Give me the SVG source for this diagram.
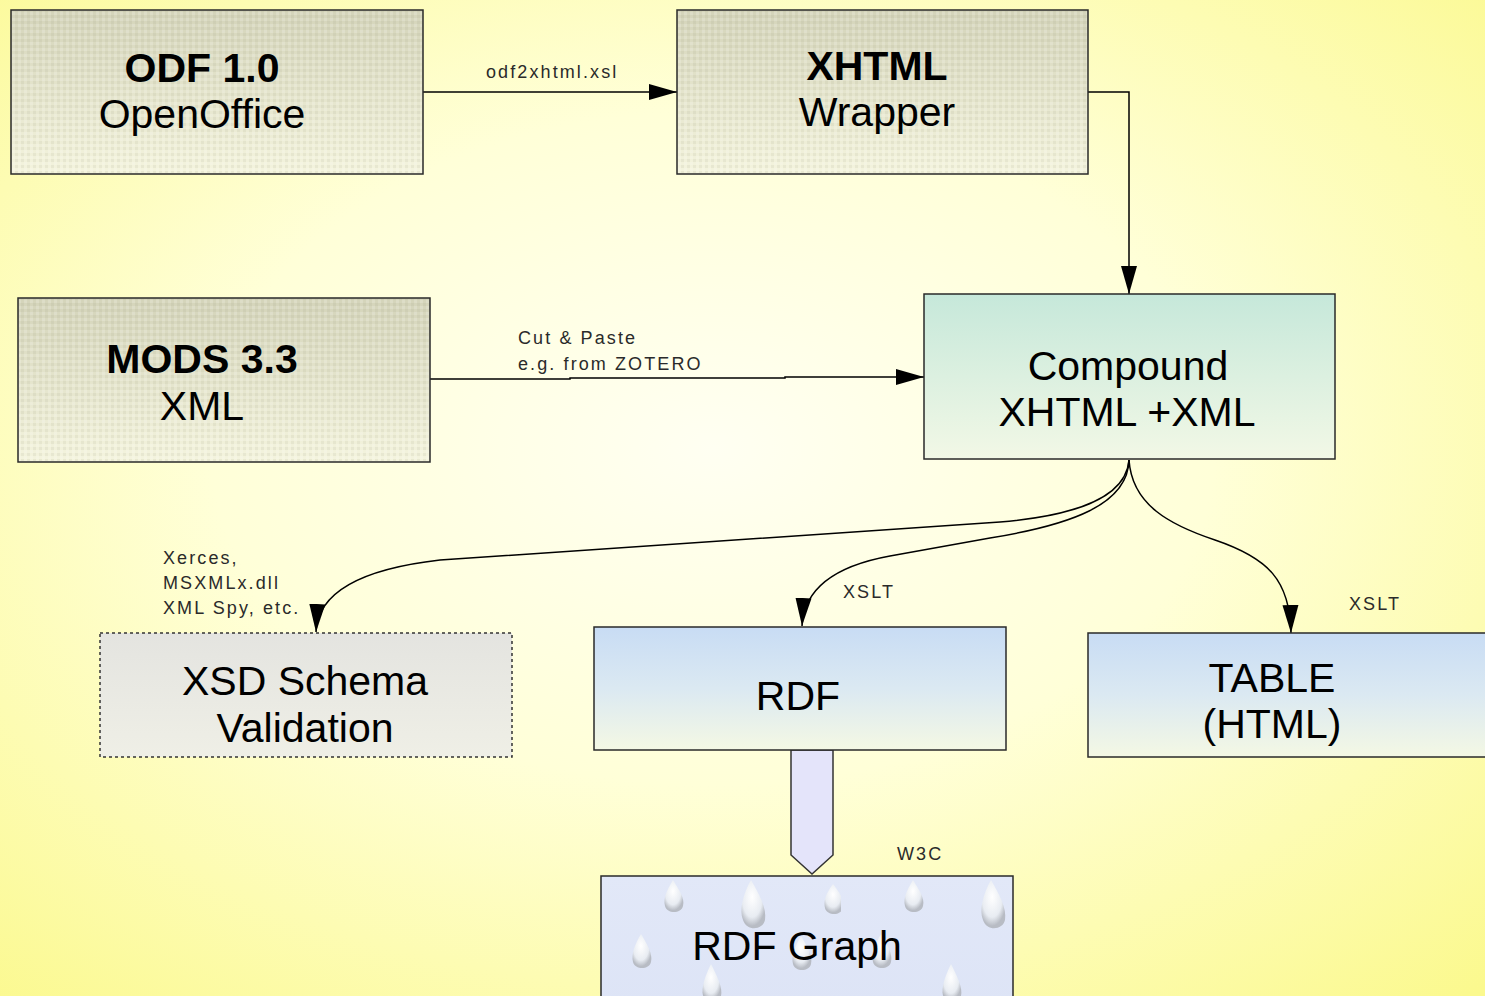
<svg xmlns="http://www.w3.org/2000/svg" width="1485" height="996" viewBox="0 0 1485 996">
<defs>
  <radialGradient id="bg" cx="48%" cy="45%" r="75%">
    <stop offset="0" stop-color="#fffff2"/>
    <stop offset="0.45" stop-color="#ffffd8"/>
    <stop offset="1" stop-color="#fbf98e"/>
  </radialGradient>
  <linearGradient id="tan" x1="0" y1="0" x2="0" y2="1">
    <stop offset="0" stop-color="#d4d4ba"/>
    <stop offset="1" stop-color="#f4f4de"/>
  </linearGradient>
  <linearGradient id="green" x1="0" y1="0" x2="0" y2="1">
    <stop offset="0" stop-color="#c6e8da"/>
    <stop offset="1" stop-color="#f2f8e6"/>
  </linearGradient>
  <linearGradient id="sky" x1="0" y1="0" x2="0" y2="1">
    <stop offset="0" stop-color="#c8dcf4"/>
    <stop offset="0.5" stop-color="#dbe9f2"/>
    <stop offset="1" stop-color="#f4f8e4"/>
  </linearGradient>
  <linearGradient id="gray" x1="0" y1="0" x2="0" y2="1">
    <stop offset="0" stop-color="#e4e4e0"/>
    <stop offset="1" stop-color="#efefe6"/>
  </linearGradient>
  <pattern id="weave" width="6" height="6" patternUnits="userSpaceOnUse">
    <rect width="6" height="6" fill="none"/>
    <rect x="0" y="0" width="3" height="3" fill="#ffffff" opacity="0.18"/>
    <rect x="3" y="3" width="3" height="3" fill="#8a8a70" opacity="0.10"/>
  </pattern>
  <radialGradient id="drop" cx="45%" cy="35%" r="60%">
    <stop offset="0" stop-color="#ffffff"/>
    <stop offset="0.7" stop-color="#e8ecf2"/>
    <stop offset="1" stop-color="#b8bcc4"/>
  </radialGradient>
  <pattern id="drops" x="601" y="876" width="240" height="130" patternUnits="userSpaceOnUse">
    <path d="M72,4 C66,14 62,22 64,30 C66,38 80,38 82,30 C84,22 78,14 72,4Z" fill="url(#drop)"/>
    <path d="M150,4 C142,18 138,34 142,44 C146,56 162,54 164,44 C166,32 158,18 150,4Z" fill="url(#drop)"/>
    <path d="M232,8 C226,16 222,24 224,32 C226,40 240,40 242,32 C244,24 238,16 232,8Z" fill="url(#drop)"/>
    <path d="M40,58 C34,68 30,78 32,86 C34,94 48,94 50,86 C52,78 46,68 40,58Z" fill="url(#drop)"/>
    <path d="M110,88 C104,100 100,112 102,120 C104,128 118,128 120,120 C122,112 116,100 110,88Z" fill="url(#drop)"/>
    <path d="M200,60 C194,70 190,80 192,88 C194,96 208,96 210,88 C212,80 206,70 200,60Z" fill="url(#drop)"/>
  </pattern>
  <linearGradient id="drbg" x1="0" y1="0" x2="0" y2="1">
    <stop offset="0" stop-color="#e2e8f8"/>
    <stop offset="1" stop-color="#dde4f6"/>
  </linearGradient>
  <marker id="ah" viewBox="0 0 28 18" refX="28" refY="9" markerWidth="28" markerHeight="18" markerUnits="userSpaceOnUse" orient="auto">
    <path d="M0,1 L28,9 L0,17 Z" fill="#000"/>
  </marker>
  <style>
    .box{stroke:#2a2a2a;stroke-width:1.5}
    .big{font-family:"Liberation Sans",Arial,sans-serif;font-size:41px;fill:#000;text-anchor:middle}
    .bold{font-weight:bold}
    .lbl{font-family:"Liberation Sans",Arial,sans-serif;font-size:18px;fill:#2a2a2a;letter-spacing:2.1px}
    .con{fill:none;stroke:#000;stroke-width:1.5}
  </style>
</defs>

<rect x="0" y="0" width="1485" height="996" fill="url(#bg)"/>

<g id="connectors">
  <line class="con" x1="423" y1="92" x2="677" y2="92" marker-end="url(#ah)"/>
  <polyline class="con" points="1088,92 1129,92 1129,294" marker-end="url(#ah)"/>
  <polyline class="con" points="430,379 570,379 570,378 785,378 785,377 924,377" marker-end="url(#ah)"/>
  <path class="con" d="M1129,460 C1126,500 1070,516 1000,522 L440,560 C370,568 318,588 316,632" marker-end="url(#ah)"/>
  <path class="con" d="M1129,460 C1128,505 1070,525 990,538 L890,556 C835,566 804,588 802,626" marker-end="url(#ah)"/>
  <path class="con" d="M1129,460 C1132,505 1170,525 1215,540 C1268,558 1290,580 1291,633" marker-end="url(#ah)"/>
  <path d="M791,750 L833,750 L833,855 L812,874 L791,855 Z" fill="#e4e4fa" stroke="#333" stroke-width="1.5"/>
  <text class="lbl" x="486" y="78">odf2xhtml.xsl</text>
  <text class="lbl" x="518" y="344">Cut &amp; Paste</text>
  <text class="lbl" x="518" y="370">e.g. from ZOTERO</text>
  <text class="lbl" x="163" y="564">Xerces,</text>
  <text class="lbl" x="163" y="589">MSXMLx.dll</text>
  <text class="lbl" x="163" y="614">XML Spy, etc.</text>
  <text class="lbl" x="843" y="598">XSLT</text>
  <text class="lbl" x="1349" y="610">XSLT</text>
  <text class="lbl" x="897" y="860">W3C</text>
</g>

<g id="odf">
  <rect class="box" x="11" y="10" width="412" height="164" fill="url(#tan)"/>
  <rect x="12" y="11" width="410" height="162" fill="url(#weave)"/>
  <text class="big bold" x="202" y="82">ODF 1.0</text>
  <text class="big" x="202" y="128">OpenOffice</text>
</g>

<g id="xhtml">
  <rect class="box" x="677" y="10" width="411" height="164" fill="url(#tan)"/>
  <rect x="678" y="11" width="409" height="162" fill="url(#weave)"/>
  <text class="big bold" x="877" y="80">XHTML</text>
  <text class="big" x="877" y="126">Wrapper</text>
</g>

<g id="mods">
  <rect class="box" x="18" y="298" width="412" height="164" fill="url(#tan)"/>
  <rect x="19" y="299" width="410" height="162" fill="url(#weave)"/>
  <text class="big bold" x="202" y="373">MODS 3.3</text>
  <text class="big" x="202" y="420">XML</text>
</g>

<g id="compound">
  <rect class="box" x="924" y="294" width="411" height="165" fill="url(#green)"/>
  <text class="big" x="1128" y="380">Compound</text>
  <text class="big" x="1127" y="426">XHTML +XML</text>
</g>

<g id="xsd">
  <rect x="100" y="633" width="412" height="124" fill="url(#gray)" stroke="#333" stroke-width="1.5" stroke-dasharray="3,3"/>
  <text class="big" x="305" y="695">XSD Schema</text>
  <text class="big" x="305" y="742">Validation</text>
</g>

<g id="rdf">
  <rect class="box" x="594" y="627" width="412" height="123" fill="url(#sky)"/>
  <text class="big" x="798" y="710">RDF</text>
</g>

<g id="table">
  <rect class="box" x="1088" y="633" width="410" height="124" fill="url(#sky)"/>
  <text class="big" x="1272" y="692">TABLE</text>
  <text class="big" x="1272" y="738">(HTML)</text>
</g>

<g id="rdfgraph">
  <rect class="box" x="601" y="876" width="412" height="130" fill="url(#drbg)"/>
  <rect x="602" y="877" width="410" height="128" fill="url(#drops)"/>
  <text class="big" x="797" y="960">RDF Graph</text>
</g>
</svg>
